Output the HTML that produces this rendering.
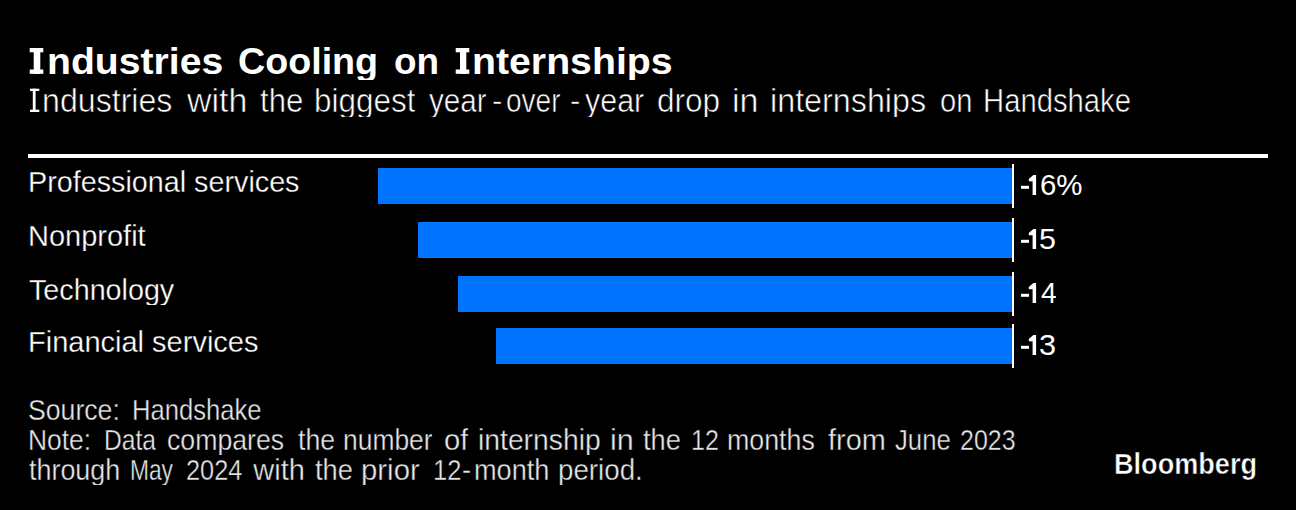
<!DOCTYPE html>
<html>
<head>
<meta charset="utf-8">
<style>
html,body{margin:0;padding:0;background:#000;}
body{width:1296px;height:510px;position:relative;overflow:hidden;}
.t{position:absolute;white-space:nowrap;line-height:1;overflow:hidden;color:#fff;font-family:"Liberation Sans",sans-serif;transform-origin:0 0;}
.rule{position:absolute;left:28px;top:154px;width:1240px;height:4px;background:#fff;}
.bar{position:absolute;height:36px;background:#0073ff;}
.b{position:absolute;background:#fff;}
.zero{position:absolute;left:1012px;width:2px;height:44px;background:#fff;}
</style>
</head>
<body>
<div class="rule"></div>
<div class="bar" style="left:378px;top:168px;width:634px;"></div>
<div class="bar" style="left:418px;top:222px;width:594px;"></div>
<div class="bar" style="left:458px;top:276px;width:554px;"></div>
<div class="bar" style="left:496px;top:328px;width:516px;"></div>
<div class="zero" style="top:164px;"></div>
<div class="zero" style="top:218px;"></div>
<div class="zero" style="top:272px;"></div>
<div class="zero" style="top:324px;"></div>
<div class="t" style="left:46.53px;top:44px;font-size:36px;font-weight:bold;transform:scaleX(1.0874);">ndustries</div>
<div class="t" style="left:238.45px;top:44px;font-size:36px;font-weight:bold;transform:scaleX(1.0458);">Cooling</div>
<div class="t" style="left:394.38px;top:44px;font-size:36px;font-weight:bold;transform:scaleX(1.0244);">on</div>
<div class="t" style="left:472.12px;top:44px;font-size:36px;font-weight:bold;transform:scaleX(1.0901);">nternships</div>
<div class="t" style="left:42.05px;top:84px;font-size:33px;transform:scaleX(0.9740);-webkit-text-stroke:0.6px #000;">ndustries</div>
<div class="t" style="left:186.80px;top:84px;font-size:33px;transform:scaleX(1.0281);-webkit-text-stroke:0.6px #000;">with</div>
<div class="t" style="left:259.60px;top:84px;font-size:33px;transform:scaleX(0.9422);-webkit-text-stroke:0.6px #000;">the</div>
<div class="t" style="left:313.59px;top:84px;font-size:33px;transform:scaleX(0.9529);-webkit-text-stroke:0.6px #000;">biggest</div>
<div class="t" style="left:429.00px;top:84px;font-size:33px;transform:scaleX(0.8984);-webkit-text-stroke:0.6px #000;">year</div>
<div class="t" style="left:492.06px;top:84px;font-size:33px;transform:scaleX(0.9444);-webkit-text-stroke:0.6px #000;">-</div>
<div class="t" style="left:506.15px;top:84px;font-size:33px;transform:scaleX(0.8492);-webkit-text-stroke:0.6px #000;">over</div>
<div class="t" style="left:570.06px;top:84px;font-size:33px;transform:scaleX(0.9444);-webkit-text-stroke:0.6px #000;">-</div>
<div class="t" style="left:585.00px;top:84px;font-size:33px;transform:scaleX(0.9219);-webkit-text-stroke:0.6px #000;">year</div>
<div class="t" style="left:657.44px;top:84px;font-size:33px;transform:scaleX(0.9563);-webkit-text-stroke:0.6px #000;">drop</div>
<div class="t" style="left:731.94px;top:84px;font-size:33px;transform:scaleX(1.0318);-webkit-text-stroke:0.6px #000;">in</div>
<div class="t" style="left:770.24px;top:84px;font-size:33px;transform:scaleX(0.9783);-webkit-text-stroke:0.6px #000;">internships</div>
<div class="t" style="left:939.92px;top:84px;font-size:33px;transform:scaleX(0.8824);-webkit-text-stroke:0.6px #000;">on</div>
<div class="t" style="left:983.14px;top:84px;font-size:33px;transform:scaleX(0.8865);-webkit-text-stroke:0.6px #000;">Handshake</div>
<div class="t" style="left:28.02px;top:168px;font-size:29px;transform:scaleX(0.9908);-webkit-text-stroke:0.3px #000;">Professional services</div>
<div class="t" style="left:28.00px;top:222px;font-size:29px;-webkit-text-stroke:0.3px #000;">Nonprofit</div>
<div class="t" style="left:29.00px;top:276px;font-size:29px;transform:scaleX(0.9898);-webkit-text-stroke:0.3px #000;">Technology</div>
<div class="t" style="left:28.00px;top:328px;font-size:29px;-webkit-text-stroke:0.3px #000;">Financial services</div>
<div class="t" style="left:1040.18px;top:171px;font-size:29px;transform:scaleX(1.0150);">6%</div>
<div class="t" style="left:1039.25px;top:225px;font-size:29px;transform:scaleX(1.0500);">5</div>
<div class="t" style="left:1040.50px;top:279px;font-size:29px;transform:scaleX(0.9688);">4</div>
<div class="t" style="left:1039.44px;top:331px;font-size:29px;transform:scaleX(1.0571);">3</div>
<div class="t" style="left:28.28px;top:396px;font-size:29px;color:#e6e6e6;transform:scaleX(0.9186);-webkit-text-stroke:0.35px #000;">Source:</div>
<div class="t" style="left:131.53px;top:396px;font-size:29px;color:#e6e6e6;transform:scaleX(0.8826);-webkit-text-stroke:0.35px #000;">Handshake</div>
<div class="t" style="left:28.18px;top:426px;font-size:29px;color:#e6e6e6;transform:scaleX(0.9108);-webkit-text-stroke:0.35px #000;">Note:</div>
<div class="t" style="left:104.10px;top:426px;font-size:29px;color:#e6e6e6;transform:scaleX(0.8483);-webkit-text-stroke:0.35px #000;">Data</div>
<div class="t" style="left:167.38px;top:426px;font-size:29px;color:#e6e6e6;transform:scaleX(0.9200);-webkit-text-stroke:0.35px #000;">compares</div>
<div class="t" style="left:297.50px;top:426px;font-size:29px;color:#e6e6e6;transform:scaleX(0.9179);-webkit-text-stroke:0.35px #000;">the</div>
<div class="t" style="left:343.18px;top:426px;font-size:29px;color:#e6e6e6;transform:scaleX(0.9115);-webkit-text-stroke:0.35px #000;">number</div>
<div class="t" style="left:443.99px;top:426px;font-size:29px;color:#e6e6e6;transform:scaleX(1.0083);-webkit-text-stroke:0.35px #000;">of</div>
<div class="t" style="left:478.05px;top:426px;font-size:29px;color:#e6e6e6;transform:scaleX(0.9756);-webkit-text-stroke:0.35px #000;">internship</div>
<div class="t" style="left:609.59px;top:426px;font-size:29px;color:#e6e6e6;transform:scaleX(1.0526);-webkit-text-stroke:0.35px #000;">in</div>
<div class="t" style="left:643.30px;top:426px;font-size:29px;color:#e6e6e6;transform:scaleX(0.9410);-webkit-text-stroke:0.35px #000;">the</div>
<div class="t" style="left:690.78px;top:426px;font-size:29px;color:#e6e6e6;transform:scaleX(0.8621);-webkit-text-stroke:0.35px #000;">12</div>
<div class="t" style="left:727.35px;top:426px;font-size:29px;color:#e6e6e6;transform:scaleX(0.9239);-webkit-text-stroke:0.35px #000;">months</div>
<div class="t" style="left:827.50px;top:426px;font-size:29px;color:#e6e6e6;transform:scaleX(0.9964);-webkit-text-stroke:0.35px #000;">from</div>
<div class="t" style="left:895.00px;top:426px;font-size:29px;color:#e6e6e6;transform:scaleX(0.8871);-webkit-text-stroke:0.35px #000;">June</div>
<div class="t" style="left:959.94px;top:426px;font-size:29px;color:#e6e6e6;transform:scaleX(0.8603);-webkit-text-stroke:0.35px #000;">2023</div>
<div class="t" style="left:29.20px;top:456px;font-size:29px;color:#e6e6e6;transform:scaleX(0.9278);-webkit-text-stroke:0.35px #000;">through</div>
<div class="t" style="left:130.13px;top:456px;font-size:29px;color:#e6e6e6;transform:scaleX(0.7849);-webkit-text-stroke:0.35px #000;">May</div>
<div class="t" style="left:185.83px;top:456px;font-size:29px;color:#e6e6e6;transform:scaleX(0.8730);-webkit-text-stroke:0.35px #000;">2024</div>
<div class="t" style="left:253.30px;top:456px;font-size:29px;color:#e6e6e6;-webkit-text-stroke:0.35px #000;">with</div>
<div class="t" style="left:315.00px;top:456px;font-size:29px;color:#e6e6e6;transform:scaleX(0.9410);-webkit-text-stroke:0.35px #000;">the</div>
<div class="t" style="left:361.28px;top:456px;font-size:29px;color:#e6e6e6;transform:scaleX(1.0125);-webkit-text-stroke:0.35px #000;">prior</div>
<div class="t" style="left:432.74px;top:456px;font-size:29px;color:#e6e6e6;transform:scaleX(0.8793);-webkit-text-stroke:0.35px #000;">12</div>
<div class="t" style="left:461.56px;top:456px;font-size:29px;color:#e6e6e6;transform:scaleX(0.9375);-webkit-text-stroke:0.35px #000;">-</div>
<div class="t" style="left:473.63px;top:456px;font-size:29px;color:#e6e6e6;transform:scaleX(0.9351);-webkit-text-stroke:0.35px #000;">month</div>
<div class="t" style="left:558.09px;top:456px;font-size:29px;color:#e6e6e6;transform:scaleX(0.9560);-webkit-text-stroke:0.35px #000;">period.</div>
<div class="t" style="left:1114.19px;top:449px;font-size:30px;font-weight:bold;transform:scaleX(0.9032);-webkit-text-stroke:0.5px #000;overflow:visible;">Bloomberg</div>
<svg style="position:absolute;left:0;top:0" width="1296" height="510"><rect x="29.7" y="48" width="13.60" height="4.3" fill="#fff"/><rect x="29.7" y="69.50" width="13.60" height="4.3" fill="#fff"/><rect x="33.7" y="48" width="6.60" height="25.80" fill="#fff"/><rect x="455.7" y="48" width="13.60" height="4.3" fill="#fff"/><rect x="455.7" y="69.50" width="13.60" height="4.3" fill="#fff"/><rect x="460" y="48" width="6.30" height="25.80" fill="#fff"/><rect x="30" y="88.7" width="9.30" height="2.3" fill="#fff"/><rect x="30" y="109.70" width="9.30" height="2.3" fill="#fff"/><rect x="32.8" y="88.7" width="2.80" height="23.30" fill="#fff"/></svg>
<svg style="position:absolute;left:0;top:0" width="1296" height="510"><rect x="1021" y="185.8" width="8" height="3" fill="#fff"/><polygon points="1033.4,175 1036.1,175 1036.1,195 1032.6,195 1032.6,181.3 1028.8,181.3 1028.8,179.1" fill="#fff"/><rect x="1021" y="239.8" width="8" height="3" fill="#fff"/><polygon points="1033.4,229 1036.1,229 1036.1,249 1032.6,249 1032.6,235.3 1028.8,235.3 1028.8,233.1" fill="#fff"/><rect x="1021" y="293.8" width="8" height="3" fill="#fff"/><polygon points="1033.4,283 1036.1,283 1036.1,303 1032.6,303 1032.6,289.3 1028.8,289.3 1028.8,287.1" fill="#fff"/><rect x="1021" y="345.8" width="8" height="3" fill="#fff"/><polygon points="1033.4,335 1036.1,335 1036.1,355 1032.6,355 1032.6,341.3 1028.8,341.3 1028.8,339.1" fill="#fff"/></svg>
</body>
</html>
